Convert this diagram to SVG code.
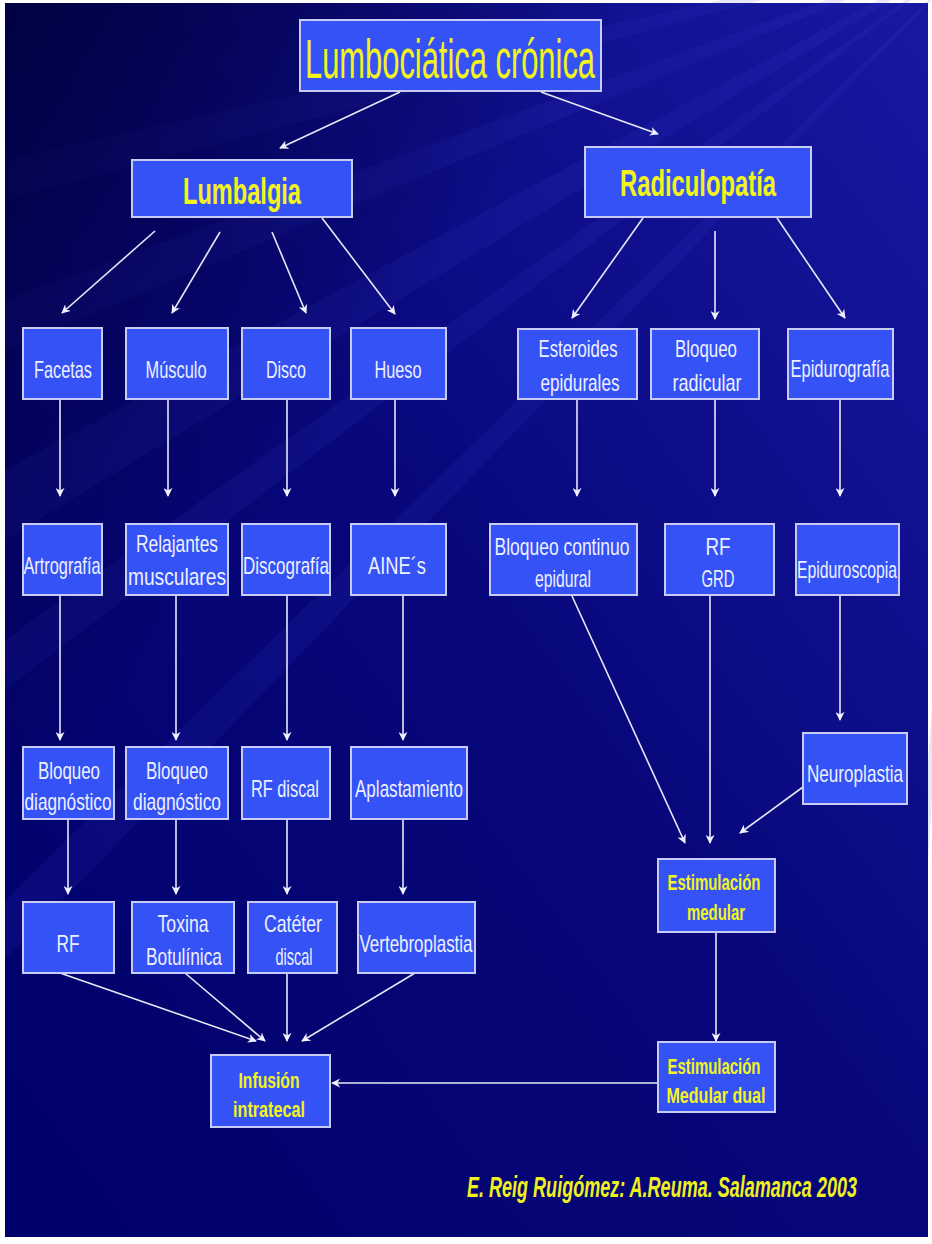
<svg xmlns="http://www.w3.org/2000/svg" width="932" height="1244" viewBox="0 0 932 1244">
  <defs>
    <linearGradient id="bg" x1="1" y1="0" x2="0" y2="1">
      <stop offset="0" stop-color="#1818a2"/>
      <stop offset="0.5" stop-color="#07077a"/>
      <stop offset="1" stop-color="#00006a"/>
    </linearGradient>
    <linearGradient id="corner" x1="0" y1="0" x2="1" y2="1">
      <stop offset="0" stop-color="#00003c" stop-opacity="0.9"/>
      <stop offset="0.35" stop-color="#00003c" stop-opacity="0"/>
    </linearGradient>
    <marker id="arr" viewBox="0 0 10 10" refX="9" refY="5" markerWidth="9" markerHeight="9" markerUnits="userSpaceOnUse" orient="auto">
      <path d="M0,0 L10,5 L0,10 L3,5 z" fill="#f0f0ff"/>
    </marker>
    <style>
      .box { fill: #3452f6; stroke: #c8ccf4; stroke-width: 2; }
      .lbl { font-family: "Liberation Sans", Arial, sans-serif; font-size: 24px; fill: #eef0ff; text-anchor: middle; }
      .hd { font-family: "Liberation Sans", Arial, sans-serif; font-weight: bold; fill: #f4f41a; text-anchor: middle; }
      .sm { font-size: 22px; }
      .con line { stroke: #e8e8f8; stroke-width: 1.6; marker-end: url(#arr); }
      .beam { fill: #4040d8; }
    </style>
  </defs>

  <!-- background with soft light beams from the upper right -->
  <rect x="0" y="0" width="932" height="1244" fill="#ffffff"/>
  <rect x="5" y="3" width="923" height="1234" fill="url(#bg)"/>
  <g opacity="0.12">
    <polygon class="beam" points="990,-60 5,300 5,350"/>
    <polygon class="beam" points="990,-60 5,470 5,540"/>
    <polygon class="beam" points="990,-60 5,640 5,690"/>
    <polygon class="beam" points="990,-60 5,900 5,960"/>
    <polygon class="beam" points="990,-60 928,760 928,860"/>
    <polygon class="beam" points="990,-60 5,160 5,200"/>
  </g>
  <rect x="5" y="3" width="923" height="1234" fill="url(#corner)"/>

  <!-- connectors -->
  <g class="con">
    <line x1="400" y1="92" x2="280" y2="148"/>
    <line x1="541" y1="92" x2="658" y2="134"/>
    <line x1="155" y1="231" x2="62" y2="313"/>
    <line x1="220" y1="232" x2="172" y2="313"/>
    <line x1="272" y1="232" x2="306" y2="313"/>
    <line x1="322" y1="218" x2="395" y2="314"/>
    <line x1="643" y1="218" x2="572" y2="318"/>
    <line x1="715" y1="231" x2="715" y2="319"/>
    <line x1="777" y1="218" x2="845" y2="318"/>
    <line x1="60" y1="400" x2="60" y2="496"/>
    <line x1="168" y1="400" x2="168" y2="496"/>
    <line x1="287" y1="400" x2="287" y2="496"/>
    <line x1="395" y1="400" x2="395" y2="496"/>
    <line x1="577" y1="400" x2="577" y2="496"/>
    <line x1="715" y1="400" x2="715" y2="496"/>
    <line x1="840" y1="400" x2="840" y2="496"/>
    <line x1="60" y1="596" x2="60" y2="740"/>
    <line x1="176" y1="596" x2="176" y2="740"/>
    <line x1="287" y1="596" x2="287" y2="740"/>
    <line x1="403" y1="596" x2="403" y2="740"/>
    <line x1="840" y1="596" x2="840" y2="720"/>
    <line x1="572" y1="596" x2="685" y2="843"/>
    <line x1="710" y1="596" x2="710" y2="843"/>
    <line x1="803" y1="787" x2="740" y2="833"/>
    <line x1="68" y1="820" x2="68" y2="894"/>
    <line x1="176" y1="820" x2="176" y2="894"/>
    <line x1="287" y1="820" x2="287" y2="894"/>
    <line x1="403" y1="820" x2="403" y2="894"/>
    <line x1="60" y1="973" x2="256" y2="1041"/>
    <line x1="185" y1="973" x2="265" y2="1041"/>
    <line x1="287" y1="973" x2="287" y2="1041"/>
    <line x1="415" y1="973" x2="302" y2="1041"/>
    <line x1="716" y1="933" x2="716" y2="1041"/>
    <line x1="658" y1="1083" x2="332" y2="1083"/>
  </g>

  <g id="n-title">
    <rect class="box" x="300" y="20" width="301" height="71"/>
    <text class="lbl" x="450" y="78" textLength="290" lengthAdjust="spacingAndGlyphs" style="font-size:56px;fill:#f4f41a">Lumbociática crónica</text>
  </g>
  <g id="n-lumbalgia">
    <rect class="box" x="132" y="160" width="220" height="57"/>
    <text class="hd" x="242" y="204" font-size="36" textLength="118" lengthAdjust="spacingAndGlyphs">Lumbalgia</text>
  </g>
  <g id="n-radiculopatia">
    <rect class="box" x="585" y="147" width="226" height="70"/>
    <text class="hd" x="698" y="196" font-size="36" textLength="156" lengthAdjust="spacingAndGlyphs">Radiculopatía</text>
  </g>

  <g id="n-facetas"><rect class="box" x="23" y="328" width="79" height="71"/><text class="lbl" x="63" y="378" textLength="58" lengthAdjust="spacingAndGlyphs">Facetas</text></g>
  <g id="n-musculo"><rect class="box" x="126" y="328" width="102" height="71"/><text class="lbl" x="176" y="378" textLength="61" lengthAdjust="spacingAndGlyphs">Músculo</text></g>
  <g id="n-disco"><rect class="box" x="242" y="328" width="88" height="71"/><text class="lbl" x="286" y="378" textLength="40" lengthAdjust="spacingAndGlyphs">Disco</text></g>
  <g id="n-hueso"><rect class="box" x="351" y="328" width="95" height="71"/><text class="lbl" x="398" y="378" textLength="47" lengthAdjust="spacingAndGlyphs">Hueso</text></g>
  <g id="n-esteroides"><rect class="box" x="518" y="329" width="119" height="70"/><text class="lbl" x="578" y="357" textLength="79" lengthAdjust="spacingAndGlyphs">Esteroides</text><text class="lbl" x="580" y="391" textLength="79" lengthAdjust="spacingAndGlyphs">epidurales</text></g>
  <g id="n-bloqueo-radicular"><rect class="box" x="651" y="329" width="108" height="70"/><text class="lbl" x="706" y="357" textLength="62" lengthAdjust="spacingAndGlyphs">Bloqueo</text><text class="lbl" x="707" y="391" textLength="69" lengthAdjust="spacingAndGlyphs">radicular</text></g>
  <g id="n-epidurografia"><rect class="box" x="788" y="329" width="105" height="70"/><text class="lbl" x="840" y="377" textLength="99" lengthAdjust="spacingAndGlyphs">Epidurografía</text></g>

  <g id="n-artrografia"><rect class="box" x="23" y="524" width="79" height="71"/><text class="lbl" x="62" y="574" textLength="77" lengthAdjust="spacingAndGlyphs">Artrografía</text></g>
  <g id="n-relajantes"><rect class="box" x="126" y="524" width="102" height="71"/><text class="lbl" x="177" y="552" textLength="82" lengthAdjust="spacingAndGlyphs">Relajantes</text><text class="lbl" x="177" y="585" textLength="98" lengthAdjust="spacingAndGlyphs">musculares</text></g>
  <g id="n-discografia"><rect class="box" x="242" y="524" width="88" height="71"/><text class="lbl" x="286" y="574" textLength="86" lengthAdjust="spacingAndGlyphs">Discografía</text></g>
  <g id="n-aines"><rect class="box" x="351" y="524" width="95" height="71"/><text class="lbl" x="397" y="574" textLength="58" lengthAdjust="spacingAndGlyphs">AINE´s</text></g>
  <g id="n-bloqueo-continuo"><rect class="box" x="490" y="524" width="147" height="71"/><text class="lbl" x="562" y="555" textLength="135" lengthAdjust="spacingAndGlyphs">Bloqueo continuo</text><text class="lbl" x="563" y="587" textLength="56" lengthAdjust="spacingAndGlyphs">epidural</text></g>
  <g id="n-rf-grd"><rect class="box" x="665" y="524" width="109" height="71"/><text class="lbl" x="718" y="555" textLength="25" lengthAdjust="spacingAndGlyphs">RF</text><text class="lbl" x="718" y="587" textLength="33" lengthAdjust="spacingAndGlyphs">GRD</text></g>
  <g id="n-epiduroscopia"><rect class="box" x="796" y="524" width="103" height="71"/><text class="lbl" x="847" y="578" textLength="100" lengthAdjust="spacingAndGlyphs">Epiduroscopia</text></g>

  <g id="n-bloqueo-diag-1"><rect class="box" x="23" y="747" width="91" height="72"/><text class="lbl" x="69" y="779" textLength="62" lengthAdjust="spacingAndGlyphs">Bloqueo</text><text class="lbl" x="68" y="810" textLength="87" lengthAdjust="spacingAndGlyphs">diagnóstico</text></g>
  <g id="n-bloqueo-diag-2"><rect class="box" x="126" y="747" width="102" height="72"/><text class="lbl" x="177" y="779" textLength="62" lengthAdjust="spacingAndGlyphs">Bloqueo</text><text class="lbl" x="177" y="810" textLength="88" lengthAdjust="spacingAndGlyphs">diagnóstico</text></g>
  <g id="n-rf-discal"><rect class="box" x="242" y="747" width="88" height="72"/><text class="lbl" x="285" y="797" textLength="68" lengthAdjust="spacingAndGlyphs">RF discal</text></g>
  <g id="n-aplastamiento"><rect class="box" x="351" y="747" width="116" height="72"/><text class="lbl" x="409" y="797" textLength="108" lengthAdjust="spacingAndGlyphs">Aplastamiento</text></g>
  <g id="n-neuroplastia"><rect class="box" x="803" y="733" width="104" height="71"/><text class="lbl" x="855" y="782" textLength="96" lengthAdjust="spacingAndGlyphs">Neuroplastia</text></g>
  <g id="n-estim-medular"><rect class="box" x="658" y="859" width="117" height="73"/><text class="hd sm" x="714" y="890" textLength="93" lengthAdjust="spacingAndGlyphs">Estimulación</text><text class="hd sm" x="716" y="920" textLength="58" lengthAdjust="spacingAndGlyphs">medular</text></g>

  <g id="n-rf"><rect class="box" x="23" y="902" width="91" height="71"/><text class="lbl" x="68" y="952" textLength="23" lengthAdjust="spacingAndGlyphs">RF</text></g>
  <g id="n-toxina"><rect class="box" x="132" y="902" width="102" height="71"/><text class="lbl" x="183" y="932" textLength="51" lengthAdjust="spacingAndGlyphs">Toxina</text><text class="lbl" x="184" y="965" textLength="76" lengthAdjust="spacingAndGlyphs">Botulínica</text></g>
  <g id="n-cateter"><rect class="box" x="248" y="902" width="89" height="71"/><text class="lbl" x="293" y="932" textLength="58" lengthAdjust="spacingAndGlyphs">Catéter</text><text class="lbl" x="294" y="965" textLength="37" lengthAdjust="spacingAndGlyphs">discal</text></g>
  <g id="n-vertebroplastia"><rect class="box" x="358" y="902" width="117" height="71"/><text class="lbl" x="416" y="952" textLength="113" lengthAdjust="spacingAndGlyphs">Vertebroplastia</text></g>

  <g id="n-infusion"><rect class="box" x="211" y="1055" width="119" height="72"/><text class="hd sm" x="269" y="1088" textLength="61" lengthAdjust="spacingAndGlyphs">Infusión</text><text class="hd sm" x="269" y="1117" textLength="72" lengthAdjust="spacingAndGlyphs">intratecal</text></g>
  <g id="n-estim-dual"><rect class="box" x="658" y="1042" width="117" height="70"/><text class="hd sm" x="714" y="1074" textLength="93" lengthAdjust="spacingAndGlyphs">Estimulación</text><text class="hd sm" x="716" y="1103" textLength="99" lengthAdjust="spacingAndGlyphs">Medular dual</text></g>

  <text x="662" y="1197" text-anchor="middle" font-family="Liberation Sans, Arial, sans-serif" font-size="29" font-weight="bold" font-style="italic" fill="#f0f020" textLength="390" lengthAdjust="spacingAndGlyphs">E. Reig Ruigómez: A.Reuma. Salamanca 2003</text>
</svg>
